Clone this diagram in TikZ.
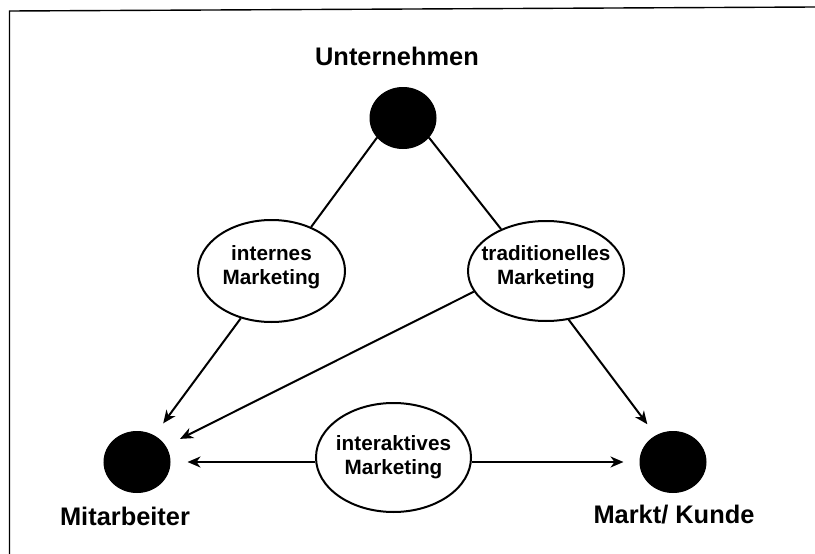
\documentclass[tikz,border=0pt]{standalone}
\usepackage{fontspec}
\setmainfont{Liberation Sans}
\usetikzlibrary{shapes.geometric,arrows.meta}
\begin{document}
\begin{tikzpicture}[x=1pt,y=-1pt,
  dot/.style={ellipse,fill=black,draw=black,line width=1pt,minimum width=66pt,minimum height=61pt,inner sep=0pt},
  oval/.style={ellipse,draw=black,line width=2pt,inner sep=0pt},
  intext/.style={align=center,font=\fontsize{20.7}{24.3}\selectfont\bfseries,inner sep=0pt},
  lab/.style={font=\fontsize{25.4}{30}\selectfont\bfseries,inner sep=0pt,anchor=base},
  con/.style={line width=2pt},
  arr/.style={con,-{Stealth[length=13pt,width=11pt,inset=4pt]}}]
\useasboundingbox (0,0) rectangle (815,554);
\draw[line width=1.4pt] (9.5,554) -- (9.5,11) -- (815,7);
% black dots
\node[dot] (U) at (403,118) {};
\node[dot] (M) at (137,462) {};
\node[dot] (K) at (673,462) {};
% labels
\node[lab] (Ut) at (397,65) {Unternehmen};
\node[lab] (Mt) at (125,525) {Mitarbeiter};
\node[lab] (Kt) at (674,523) {Markt/ Kunde};
% ovals
\node[oval,minimum width=147pt,minimum height=102pt] (IM) at (271.5,271) {};
\node[intext] (IMt) at (271.5,267.5) {internes\\Marketing};
\node[oval,minimum width=156pt,minimum height=100pt] (TM) at (546,271) {};
\node[intext] (TMt) at (546,267.5) {traditionelles\\Marketing};
\node[oval,minimum width=155pt,minimum height=109pt] (IA) at (393.5,457.5) {};
\node[intext] (IAt) at (393.5,457.5) {interaktives\\Marketing};
% connectors
\draw[con] (U.217.6) -- (IM.48.8);
\draw[con] (U.-37.6) -- (TM.137.4);
\draw[arr,shorten >=15pt] (IM.237) -- (M.57);
\draw[arr,shorten >=16pt] (TM.196) -- (M.29);
\draw[arr,shorten >=14pt] (TM.-65) -- (K.123);
\draw[arr,shorten >=17pt] (IA.west |- M.center) -- (M.east);
\draw[arr,shorten >=16pt] (IA.east |- K.center) -- (K.west);
\end{tikzpicture}
\end{document}
